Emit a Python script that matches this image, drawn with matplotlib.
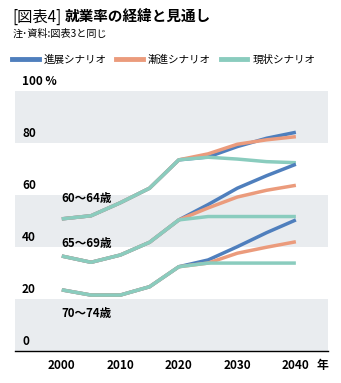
import matplotlib.pyplot as plt
from matplotlib.lines import Line2D

plt.rcParams['font.family'] = ['Noto Sans CJK JP', 'DejaVu Sans']

# 年次（5年刻み）
years = [2000, 2005, 2010, 2015, 2020, 2025, 2030, 2035, 2040]

# 就業率（%）: 年齢階級ごと・シナリオごと
rate_60_64 = {
    '進展シナリオ': [50.8, 52.0, 57.0, 62.6, 73.5, 74.6, 78.6, 81.8, 84.1],
    '漸進シナリオ': [50.8, 52.0, 57.0, 62.6, 73.5, 75.8, 79.5, 81.2, 82.4],
    '現状シナリオ': [50.8, 52.0, 57.0, 62.6, 73.5, 74.5, 73.8, 72.8, 72.4],
}
rate_65_69 = {
    '進展シナリオ': [36.5, 34.1, 36.9, 41.8, 50.4, 56.3, 62.6, 67.4, 71.8],
    '漸進シナリオ': [36.5, 34.1, 36.9, 41.8, 50.4, 55.0, 59.2, 61.8, 63.7],
    '現状シナリオ': [36.5, 34.1, 36.9, 41.8, 50.4, 51.7, 51.7, 51.7, 51.7],
}
rate_70_74 = {
    '進展シナリオ': [23.5, 21.5, 21.5, 24.7, 32.4, 35.0, 40.1, 45.5, 50.4],
    '漸進シナリオ': [23.5, 21.5, 21.5, 24.7, 32.4, 33.8, 37.6, 39.9, 42.0],
    '現状シナリオ': [23.5, 21.5, 21.5, 24.7, 32.4, 33.8, 33.8, 33.8, 33.8],
}
age_labels = ['60～64歳', '65～69歳', '70～74歳']
scenarios = ['進展シナリオ', '漸進シナリオ', '現状シナリオ']
colors = {'進展シナリオ': '#4f7fbd', '漸進シナリオ': '#eb9b7c', '現状シナリオ': '#8accbe'}

y_ticks = [0, 20, 40, 60, 80, 100]
x_ticks = [2000, 2010, 2020, 2030, 2040]

fig = plt.figure(figsize=(3.41, 3.83), dpi=100)
ax = fig.add_axes([0.044, 0.0836, 0.918, 0.679])
ax.set_xlim(1992.0, 2045.5)
ax.set_ylim(0, 100)

# 背景の横帯
for lo in (0, 40, 80):
    ax.axhspan(lo, lo + 20, color='#e9ecef', lw=0, zorder=0)
ax.axhline(0, color='black', lw=1.0, zorder=5, clip_on=False)

for group in (rate_60_64, rate_65_69, rate_70_74):
    for s in scenarios:
        ax.plot(years, group[s], color=colors[s], lw=2.5,
                solid_capstyle='butt', zorder=3)

# 年齢階級ラベル
lab_kw = dict(fontsize=8.3, fontweight='bold', ha='left', va='center')
ax.text(2000, 58.5, age_labels[0], **lab_kw)
ax.text(2000, 41.5, age_labels[1], **lab_kw)
ax.text(2000, 14.5, age_labels[2], **lab_kw)

# 目盛ラベル（帯の境界の少し上に表示）
for v in y_ticks:
    label = '100 %' if v == 100 else str(v)
    ax.text(1993.2, v + 1.0, label, fontsize=8.5, fontweight='bold',
            ha='left', va='bottom')
for x in x_ticks:
    ax.text(x, -3.2, str(x), fontsize=8.5, fontweight='bold', ha='center', va='top')
ax.text(2044.6, -3.2, '年', fontsize=8.5, fontweight='bold', ha='center', va='top')

ax.set_xticks([])
ax.set_yticks([])
for sp in ax.spines.values():
    sp.set_visible(False)
ax.patch.set_visible(False)

# タイトル
fig.text(12 / 341, 1 - 17 / 383, '[図表4]', fontsize=11, ha='left', va='center')
fig.text(65 / 341, 1 - 17 / 383, '就業率の経緯と見通し', fontsize=10.5,
         fontweight='bold', ha='left', va='center')
fig.text(13 / 341, 1 - 34 / 383, '注･資料:図表3と同じ', fontsize=7.3,
         ha='left', va='center')

handles = [Line2D([], [], color=colors[s], lw=3.5) for s in scenarios]
fig.legend(handles, scenarios, loc='center left', ncol=3,
           bbox_to_anchor=(0.036, 1 - 60 / 383), frameon=False,
           fontsize=7.6, handlelength=2.5, handletextpad=0.5,
           columnspacing=0.9, borderaxespad=0, borderpad=0)

fig.savefig('out.png', dpi=100)
